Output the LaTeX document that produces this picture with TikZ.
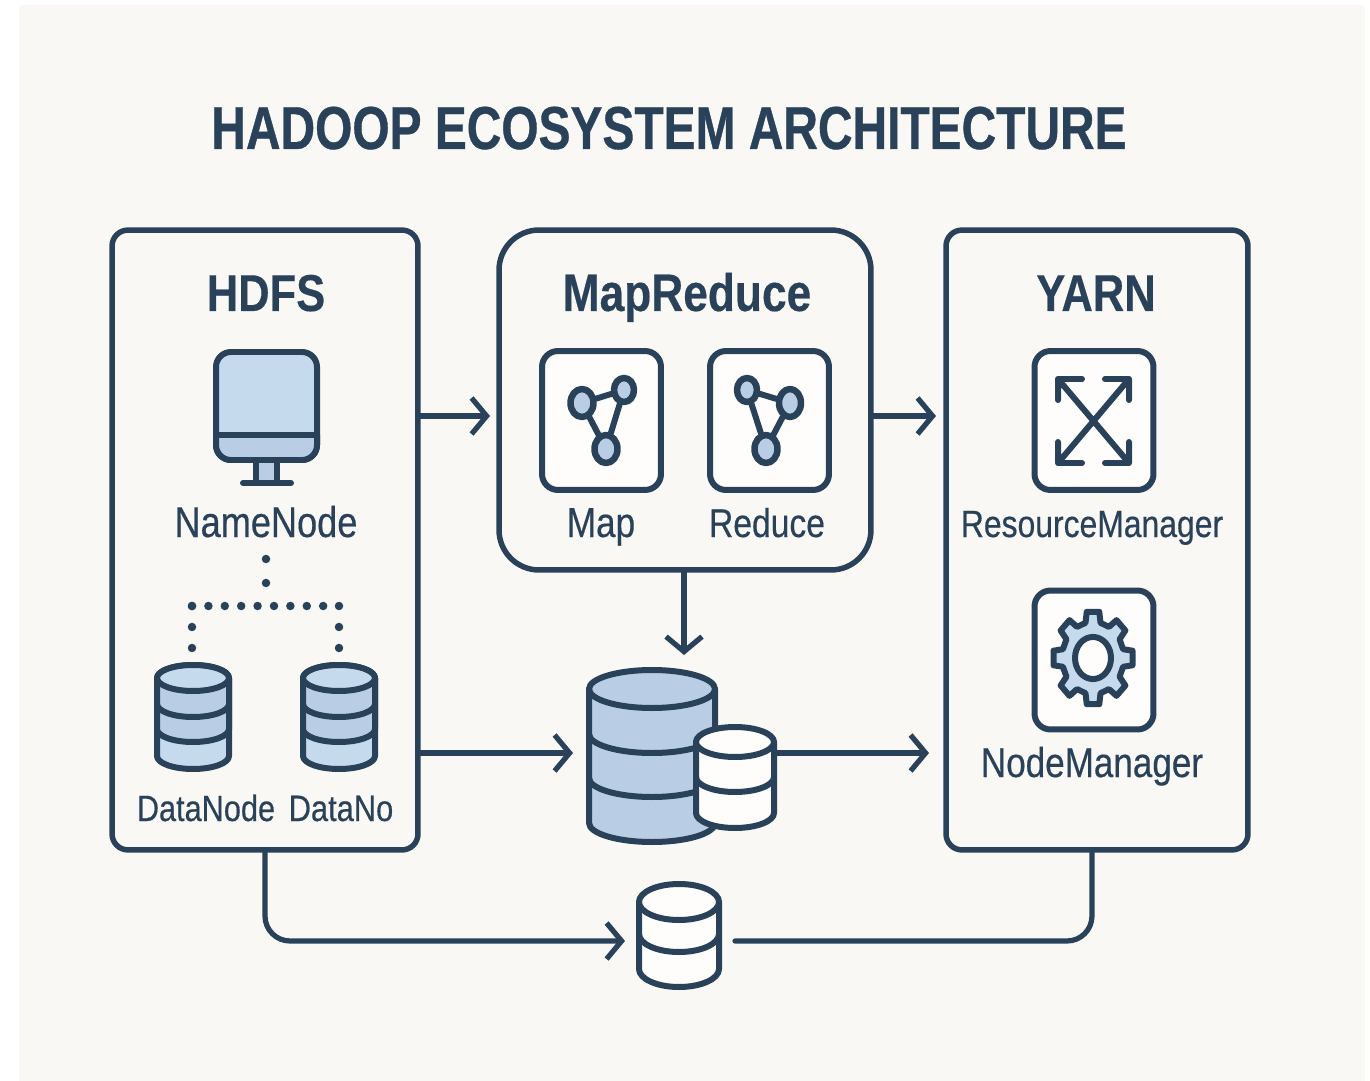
\documentclass[tikz,border=0pt]{standalone}
\usepackage{fontspec}
\setmainfont[FakeStretch=0.84,FakeBold=0.4,BoldFeatures={FakeBold=0.3}]{Liberation Sans}
\newfontfamily\titlefont[FakeStretch=0.79,FakeBold=0.6]{Liberation Sans Bold}
\usetikzlibrary{arrows.meta,shapes.geometric}
\definecolor{ink}{HTML}{29425A}
\definecolor{paper}{HTML}{FAF8F5}
\definecolor{pale}{HTML}{FEFDFB}
\definecolor{skyA}{HTML}{C5DAED}
\definecolor{skyB}{HTML}{B9CEE4}
% cx, cy, rx, ry, foot of the sides, ys of the bands, fill of the body, fill of the lid
\newcommand{\drum}[8]{
	\draw[icon,fill=#7] (#1-#3,#2)--(#1-#3,#5) arc[start angle=180,end angle=0,x radius=#3,y radius=#4]--(#1+#3,#2)--cycle;
	\foreach \yb in {#6} \draw[icon] (#1-#3,\yb) arc[start angle=180,end angle=0,x radius=#3,y radius=#4];
	\draw[icon,fill=#8] (#1,#2) ellipse[x radius=#3,y radius=#4];
}
\newcommand{\lbl}[1]{\fontsize{#1}{#1}\selectfont}
\begin{document}
\begin{tikzpicture}[x=.02cm,y=-.02cm,>={Straight Barb[length=.3cm,width=.72cm]},line join=round,line cap=round,
	panel/.style={draw=ink,line width=.11cm,fill=paper,inner sep=0pt},
	iconbox/.style={draw=ink,line width=.12cm,fill=pale,rounded corners=.32cm,minimum width=2.38cm,minimum height=2.78cm,inner sep=0pt},
	flow/.style={draw=ink,line width=.105cm,->},
	icon/.style={draw=ink,line width=.12cm},
	dot/.style={draw=ink,line width=.17cm},
	gnode/.style={ellipse,draw=ink,line width=.13cm,fill=skyB,inner sep=0pt},
	txt/.style={text=ink,inner sep=0pt,anchor=base}]
	\useasboundingbox (0,0) rectangle (1370,1081);
	\fill[white] (0,0) rectangle (1370,1081);
	\fill[paper,rounded corners=.1cm] (19,5) rectangle (1365,1090);
	\node[txt,font=\titlefont\lbl{34.5}] (title) at (669,149) {HADOOP ECOSYSTEM ARCHITECTURE};

	\node[panel,rounded corners=.32cm,minimum width=6.12cm,minimum height=12.4cm] (hdfs) at (265,540) {};
	\node[panel,rounded corners=.8cm,minimum width=7.44cm,minimum height=6.8cm] (mr) at (685,400) {};
	\node[panel,rounded corners=.32cm,minimum width=6.04cm,minimum height=12.4cm] (yarn) at (1097,540) {};
	\node[txt,font=\bfseries\lbl{29.5}] (hdfst) at (266,311) {HDFS};
	\node[txt,font=\bfseries\lbl{30}] (mrt) at (687,311) {MapReduce};
	\node[txt,font=\bfseries\lbl{29.5}] (yarnt) at (1096,311) {YARN};

	% namenode screen
	\draw[icon,fill=skyA,rounded corners=.3cm] (216,352) rectangle (317,460);
	\draw[icon,fill=skyB] (216,435)[rounded corners=.3cm]--(216,460)--(317,460)[sharp corners]--(317,435)--cycle;
	\draw[icon,fill=skyB] (256,460) rectangle (277,483);
	\draw[icon] (243,483)--(291,483);
	\node[txt,font=\lbl{24.5}] (nn) at (266,537) {NameNode};
	\node[txt,font=\lbl{20.8}] (dn1) at (206,821) {DataNode};
	\node[txt,font=\lbl{20.9}] (dn2) at (341,821) {DataNo};
	\coordinate (nndot) at (266,559);
	\coordinate (fork) at (266,606);
	\coordinate (forkl) at (192,606);
	\coordinate (forkr) at (339,606);
	\coordinate (dnl) at (192,649);
	\coordinate (dnr) at (339,649);
	\draw[dot,dash pattern=on 0pt off .48cm] (nndot)--(fork);
	\draw[dot,dash pattern=on 0pt off .328cm] (forkl)--(forkr);
	\draw[dot,dash pattern=on 0pt off .42cm] (forkl)--(dnl);
	\draw[dot,dash pattern=on 0pt off .42cm] (forkr)--(dnr);
	\foreach \cx in {193,339} {
		\drum{\cx}{678}{36}{13}{756}{}{skyA}{skyA}
		\drum{\cx}{678}{36}{13}{729}{{704}}{skyB}{skyA}
	}

	% map and reduce
	\node[iconbox] (map) at (601.5,420.5) {};
	\node[iconbox] (red) at (769.5,420.5) {};
	\node[gnode,minimum width=.46cm,minimum height=.56cm] (ma) at (582,403) {};
	\node[gnode,minimum width=.4cm,minimum height=.48cm] (mb) at (624,390) {};
	\node[gnode,minimum width=.46cm,minimum height=.56cm] (mc) at (606,449) {};
	\draw[icon] (ma)--(mb)--(mc)--(ma);
	\node[gnode,minimum width=.4cm,minimum height=.48cm] (ra) at (747,390) {};
	\node[gnode,minimum width=.44cm,minimum height=.56cm] (rb) at (790,403) {};
	\node[gnode,minimum width=.46cm,minimum height=.56cm] (rc) at (766,449) {};
	\draw[icon] (ra)--(rb)--(rc)--(ra);
	\node[txt,font=\lbl{23.8}] (mapl) at (601,537) {Map};
	\node[txt,font=\lbl{22.8}] (redl) at (767,537) {Reduce};

	% resource manager
	\node[iconbox] (rm) at (1094,420.5) {};
	\draw[icon] (1058,379)--(1129,463) (1129,379)--(1058,463)
		(1082,379)-|(1058,400) (1105,379)-|(1129,400) (1082,463)-|(1058,442) (1105,463)-|(1129,442);
	\node[txt,font=\lbl{21.6}] (rml) at (1092,537) {ResourceManager};

	% node manager
	\node[iconbox] (nm) at (1094,660) {};
	\begin{scope}[shift={(1093,658)},yscale=1.17]
		\draw[icon,fill=skyA] (-14:31) \foreach \a in {0,45,...,315} {--(\a-14:31)--(\a-9:40)--(\a+9:40)--(\a+14:31)} --cycle;
		\draw[icon,fill=pale] (0,0) circle (18);
	\end{scope}
	\node[txt,font=\lbl{23.75}] (nml) at (1092,777) {NodeManager};

	% stores
	\drum{652}{689}{63}{19}{823}{{734},{778}}{skyB}{skyB}
	\drum{735}{742}{39}{15}{813}{{777}}{pale}{pale}
	\drum{679}{902}{40}{18}{969}{{934}}{pale}{pale}
	\coordinate (big) at (684,655);
	\coordinate (bigw) at (573,753);
	\coordinate (smalle) at (775,753);
	\coordinate (yarnw) at (929,753);
	\coordinate (hm) at (490,416);
	\coordinate (my) at (936,416);
	\coordinate (lowin) at (625,941);
	\coordinate (lowout) at (735,941);

	\draw[flow] (hdfs.east|-hm)--(hm);
	\draw[flow] (mr.east|-my)--(my);
	\draw[flow] (mr.south-|big)--(big);
	\draw[flow] (hdfs.east|-bigw)--(bigw);
	\draw[flow] (smalle)--(yarnw);
	\draw[flow,rounded corners=.5cm] (hdfs.south)|-(lowin);
	\draw[icon,line width=.105cm,rounded corners=.5cm] (yarn.south-|1092,0)|-(lowout);
\end{tikzpicture}
\end{document}
